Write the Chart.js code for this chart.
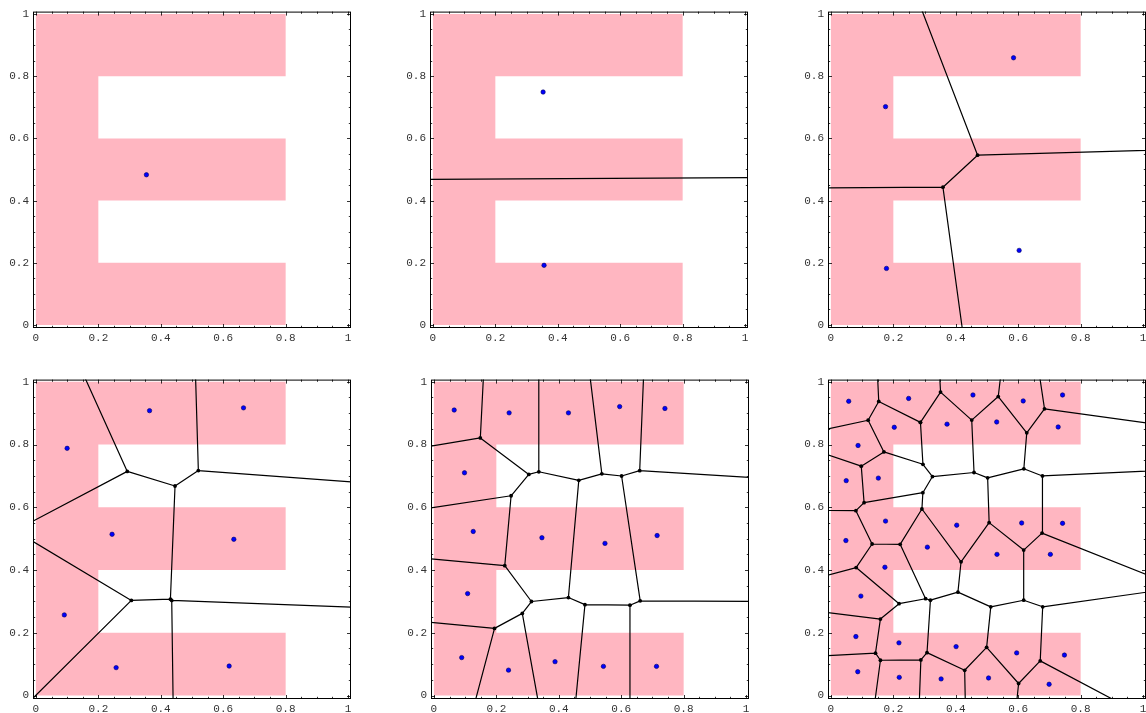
<!DOCTYPE html>
<html>
<head>
<meta charset="utf-8">
<script src="https://cdn.jsdelivr.net/npm/chart.js@4/dist/chart.umd.min.js"></script>
<style>
  html, body { margin: 0; padding: 0; background: #fff; }
  body { width: 1146px; height: 713px; position: relative; overflow: hidden; }
  canvas { position: absolute; }
</style>
</head>
<body>
<script>
// The "E" region, as a closed outline
const E_X = [0, 0.8, 0.8, 0.2, 0.2, 0.8, 0.8, 0.2, 0.2, 0.8, 0.8, 0];
const E_Y = [0, 0, 0.2, 0.2, 0.4, 0.4, 0.6, 0.6, 0.8, 0.8, 1, 1];

// Axis tick labels
const TICKS = [0, 0.2, 0.4, 0.6, 0.8, 1];

// Generator points for each of the six diagrams
const P1_X = [0.354];
const P1_Y = [0.483];

const P2_X = [0.353, 0.356];
const P2_Y = [0.749, 0.192];

const P3_X = [0.175, 0.585, 0.178, 0.603];
const P3_Y = [0.702, 0.859, 0.182, 0.240];

const P4_X = [0.100, 0.364, 0.665, 0.244, 0.634, 0.091, 0.257, 0.619];
const P4_Y = [0.788, 0.908, 0.917, 0.514, 0.498, 0.257, 0.089, 0.094];

const P5_X = [0.065, 0.241, 0.431, 0.595, 0.740, 0.098, 0.126, 0.346,
              0.548, 0.715, 0.108, 0.089, 0.239, 0.388, 0.543, 0.713];
const P5_Y = [0.910, 0.901, 0.901, 0.921, 0.915, 0.710, 0.523, 0.503,
              0.485, 0.510, 0.325, 0.121, 0.081, 0.108, 0.093, 0.093];

const P6_X = [0.057, 0.249, 0.455, 0.616, 0.742,
              0.203, 0.372, 0.531, 0.728,
              0.087, 0.049, 0.152,
              0.175, 0.403, 0.611, 0.742,
              0.048, 0.309, 0.532, 0.703,
              0.173, 0.096,
              0.080, 0.218, 0.401, 0.595, 0.748,
              0.086, 0.219, 0.353, 0.505, 0.699];
const P6_Y = [0.938, 0.947, 0.958, 0.939, 0.958,
              0.855, 0.865, 0.872, 0.856,
              0.797, 0.685, 0.693,
              0.556, 0.543, 0.550, 0.549,
              0.494, 0.473, 0.450, 0.450,
              0.409, 0.317,
              0.188, 0.168, 0.156, 0.136, 0.129,
              0.076, 0.058, 0.053, 0.056, 0.036];

// Voronoi cells: clip a large box by the perpendicular bisectors,
// keeping track of which neighbour produced each polygon side.
function voronoi(xs, ys) {
  const n = xs.length;
  const segs = [];
  const verts = [];
  const seen = new Set();
  const LO = -4, HI = 5;
  for (let i = 0; i < n; i++) {
    let poly = [
      { x: LO, y: LO, t: -1 }, { x: HI, y: LO, t: -1 },
      { x: HI, y: HI, t: -1 }, { x: LO, y: HI, t: -1 }
    ];
    for (let j = 0; j < n; j++) {
      if (j === i) continue;
      const dx = xs[j] - xs[i], dy = ys[j] - ys[i];
      const mx = (xs[i] + xs[j]) / 2, my = (ys[i] + ys[j]) / 2;
      const f = p => (p.x - mx) * dx + (p.y - my) * dy;
      const out = [];
      for (let k = 0; k < poly.length; k++) {
        const a = poly[k], b = poly[(k + 1) % poly.length];
        const fa = f(a), fb = f(b);
        const ina = fa <= 0, inb = fb <= 0;
        if (ina) out.push({ x: a.x, y: a.y, t: a.t });
        if (ina !== inb) {
          const s = fa / (fa - fb);
          const p = { x: a.x + s * (b.x - a.x), y: a.y + s * (b.y - a.y) };
          out.push({ x: p.x, y: p.y, t: ina ? j : a.t });
        }
      }
      poly = out;
      if (!poly.length) break;
    }
    const m = poly.length;
    for (let k = 0; k < m; k++) {
      const a = poly[k], b = poly[(k + 1) % m], prev = poly[(k - 1 + m) % m];
      if (a.t > i) segs.push([a, b]);
      if (a.t >= 0 && prev.t >= 0) {
        const key = a.x.toFixed(5) + ',' + a.y.toFixed(5);
        if (!seen.has(key)) { seen.add(key); verts.push({ x: a.x, y: a.y }); }
      }
    }
  }
  return { segs, verts };
}

// Mathematica-style frame with inward ticks on all four sides
const framePlugin = {
  id: 'frameTicks',
  afterDraw(chart) {
    const { ctx, chartArea: a, scales: { x, y } } = chart;
    ctx.save();
    ctx.strokeStyle = '#000';
    ctx.lineWidth = 1;
    ctx.strokeRect(a.left + 0.5, a.top + 0.5, a.width - 1, a.height - 1);
    ctx.lineWidth = 0.8;
    ctx.beginPath();
    for (let i = 0; i <= 20; i++) {
      const v = i / 20;
      const len = (i % 4 === 0) ? 4 : 2.2;
      const px = Math.round(x.getPixelForValue(v)) + 0.5;
      const py = Math.round(y.getPixelForValue(v)) + 0.5;
      ctx.moveTo(px, a.bottom); ctx.lineTo(px, a.bottom - len);
      ctx.moveTo(px, a.top); ctx.lineTo(px, a.top + len);
      ctx.moveTo(a.left, py); ctx.lineTo(a.left + len, py);
      ctx.moveTo(a.right, py); ctx.lineTo(a.right - len, py);
    }
    ctx.stroke();
    ctx.restore();
  }
};

const tickFont = { family: "'Liberation Mono', 'DejaVu Sans Mono', monospace", size: 11 };
const fmt = v => (v === 0 ? '0' : v === 1 ? '1' : v.toFixed(1));

const FRAME_W = 318;
const PANELS = [
  { xs: P1_X, ys: P1_Y, left: 33,  top: 11,  h: 317, ymin: -0.0095, ymax: 1.0075 },
  { xs: P2_X, ys: P2_Y, left: 430, top: 11,  h: 317, ymin: -0.0095, ymax: 1.0075 },
  { xs: P3_X, ys: P3_Y, left: 828, top: 11,  h: 317, ymin: -0.0095, ymax: 1.0075 },
  { xs: P4_X, ys: P4_Y, left: 33,  top: 379, h: 320, ymin: -0.011,  ymax: 1.007 },
  { xs: P5_X, ys: P5_Y, left: 431, top: 379, h: 320, ymin: -0.011,  ymax: 1.007 },
  { xs: P6_X, ys: P6_Y, left: 828, top: 379, h: 320, ymin: -0.011,  ymax: 1.007 }
];

const PAD_L = 33, PAD_T = 10, PAD_R = 8, PAD_B = 20;

PANELS.forEach(p => {
  const cv = document.createElement('canvas');
  cv.width = PAD_L + FRAME_W + PAD_R;
  cv.height = PAD_T + p.h + PAD_B;
  cv.style.left = (p.left - PAD_L) + 'px';
  cv.style.top = (p.top - PAD_T) + 'px';
  document.body.appendChild(cv);

  const vd = voronoi(p.xs, p.ys);
  const edgeData = [];
  vd.segs.forEach(([a, b]) => {
    edgeData.push({ x: a.x, y: a.y }, { x: b.x, y: b.y }, { x: null, y: null });
  });

  new Chart(cv, {
    type: 'scatter',
    data: {
      datasets: [
        {
          label: 'sites',
          data: p.xs.map((x, i) => ({ x, y: p.ys[i] })),
          pointRadius: 2.2,
          pointBackgroundColor: '#0000ff',
          pointBorderColor: '#000060',
          pointBorderWidth: 0.6,
          order: 0
        },
        {
          label: 'vertices',
          data: vd.verts,
          pointRadius: 1.9,
          pointBackgroundColor: '#000',
          pointBorderColor: '#000',
          pointBorderWidth: 0,
          order: 1
        },
        {
          label: 'edges',
          data: edgeData,
          showLine: true,
          spanGaps: false,
          borderColor: '#000',
          borderWidth: 1.2,
          pointRadius: 0,
          order: 2
        },
        {
          label: 'E',
          data: E_X.map((x, i) => ({ x, y: E_Y[i] })),
          showLine: true,
          fill: 'shape',
          backgroundColor: '#ffb6c1',
          borderColor: 'rgba(0,0,0,0)',
          borderWidth: 0,
          pointRadius: 0,
          order: 3
        }
      ]
    },
    options: {
      responsive: false,
      animation: false,
      devicePixelRatio: 1,
      events: [],
      layout: { padding: { top: PAD_T, right: PAD_R, left: 0, bottom: 0 } },
      plugins: { legend: { display: false }, tooltip: { enabled: false } },
      scales: {
        x: {
          type: 'linear', position: 'bottom',
          min: -0.0093, max: 1.0093,
          grid: { display: false, drawTicks: false },
          border: { display: false },
          ticks: { font: tickFont, color: '#333', padding: 3, maxRotation: 0, autoSkip: false, callback: fmt },
          afterBuildTicks: s => { s.ticks = TICKS.map(v => ({ value: v })); },
          afterFit: s => { s.height = PAD_B; }
        },
        y: {
          type: 'linear', position: 'left',
          min: p.ymin, max: p.ymax,
          grid: { display: false, drawTicks: false },
          border: { display: false },
          ticks: { font: tickFont, color: '#333', padding: 4, autoSkip: false, callback: fmt },
          afterBuildTicks: s => { s.ticks = TICKS.map(v => ({ value: v })); },
          afterFit: s => { s.width = PAD_L; }
        }
      }
    },
    plugins: [framePlugin]
  });
});
</script>
</body>
</html>
